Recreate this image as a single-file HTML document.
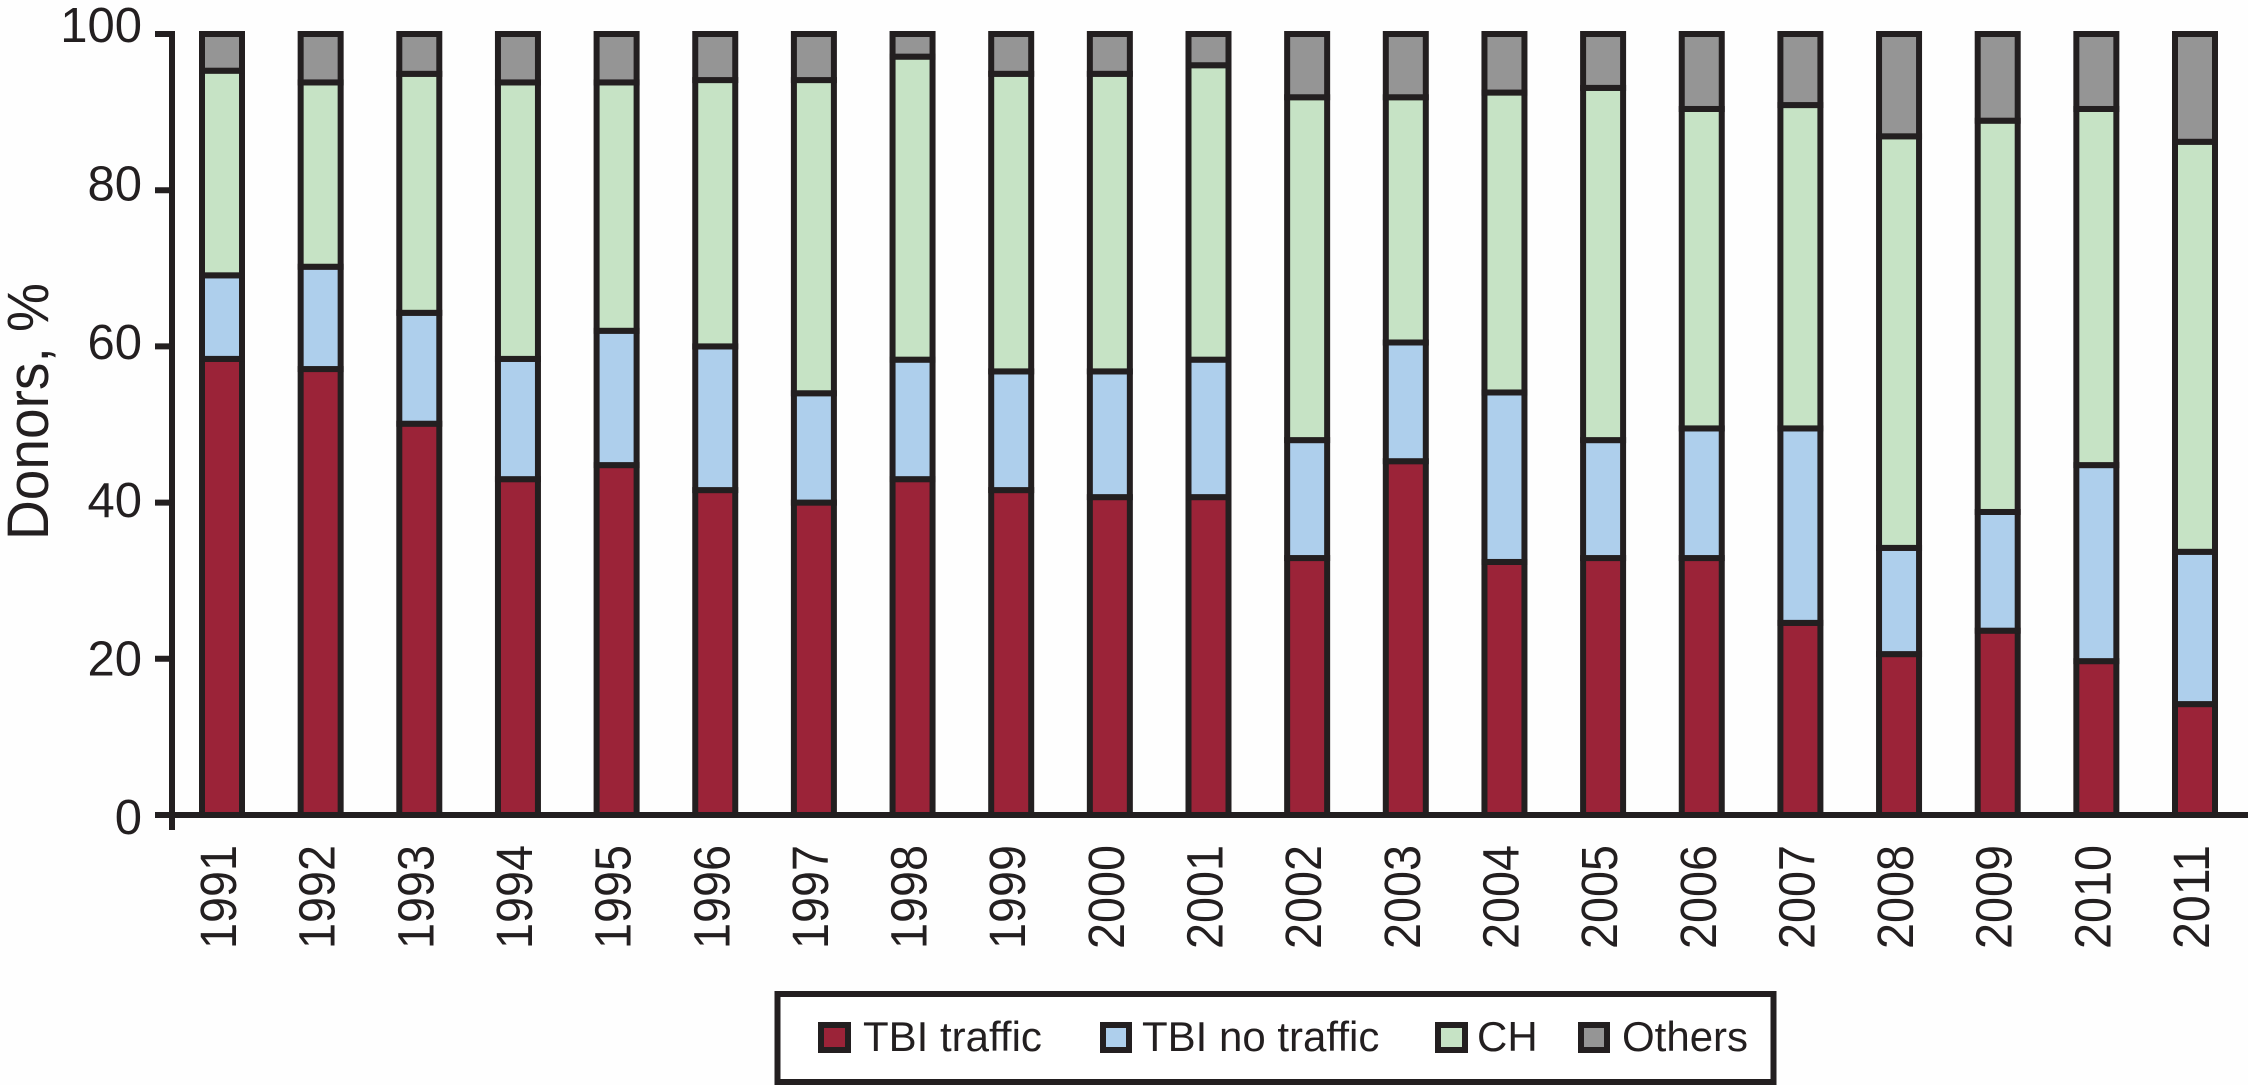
<!DOCTYPE html>
<html lang="en">
<head>
<meta charset="utf-8">
<title>Donors by cause of death, 1991-2011</title>
<style>
html,body{margin:0;padding:0;background:#fff;}
svg{display:block;font-family:"Liberation Sans",Arial,sans-serif;}
text{fill:#231f20;}
</style>
</head>
<body>
<svg id="chart" xmlns="http://www.w3.org/2000/svg" width="2248" height="1085" viewBox="0 0 2248 1085">
  <rect x="0" y="0" width="2248" height="1085" fill="#fefefe"/>
  <g id="bars"></g>
  <g id="axes"></g>
  <text transform="translate(48,540) rotate(-90)" font-size="58" textLength="257" lengthAdjust="spacingAndGlyphs">Donors, %</text>
  <g>
    <rect x="777.5" y="994" width="996" height="88" fill="#fff" stroke="#231f20" stroke-width="6"/>
    <g>
      <rect x="821" y="1025" width="27" height="25" fill="#9b2338" stroke="#231f20" stroke-width="6"/>
      <text x="863" y="1051" font-size="42">TBI traffic</text>
    </g>
    <g>
      <rect x="1103" y="1025" width="26" height="25" fill="#aecfec" stroke="#231f20" stroke-width="6"/>
      <text x="1142" y="1051" font-size="42">TBI no traffic</text>
    </g>
    <g>
      <rect x="1438" y="1025" width="27" height="25" fill="#c6e3c5" stroke="#231f20" stroke-width="6"/>
      <text x="1477" y="1051" font-size="42">CH</text>
    </g>
    <g>
      <rect x="1581" y="1025" width="26" height="25" fill="#959595" stroke="#231f20" stroke-width="6"/>
      <text x="1622" y="1051" font-size="42">Others</text>
    </g>
  </g>
</svg>
<script>
const years = ["1991","1992","1993","1994","1995","1996","1997","1998","1999","2000","2001","2002","2003","2004","2005","2006","2007","2008","2009","2010","2011"];
const tbiTraffic = [58.4,57.1,50.1,43,44.8,41.6,40,43,41.6,40.7,40.7,32.9,45.3,32.4,32.9,32.9,24.6,20.6,23.6,19.7,14.2];
const tbiNoTraffic = [10.7,13.1,14.2,15.4,17.2,18.4,14,15.3,15.2,16.1,17.6,15.1,15.2,21.7,15.1,16.6,24.9,13.6,15.2,25.1,19.5];
const ch = [26.2,23.6,30.6,35.4,31.8,34.1,40.1,38.8,38.1,38.1,37.7,43.9,31.4,38.4,45.1,40.9,41.4,52.7,50.1,45.6,52.5];
const others = [4.7,6.2,5.1,6.2,6.2,5.9,5.9,2.9,5.1,5.1,4,8.1,8.1,7.5,6.9,9.6,9.1,13.1,11.1,9.6,13.8];
const yTicks = [0,20,40,60,80,100];

const NS = "http://www.w3.org/2000/svg";
const INK = "#231f20";
const barsLayer = document.getElementById("bars");
const axesLayer = document.getElementById("axes");

function yScale(v) { return 815 - v * 7.81; }
function yLabelBaseline(v) { return 834 - v * 7.92; }
function xScale(i) { return 222 + i * (2195 - 222) / (years.length - 1); }

function makeRect(x, y, w, h, fill) {
  const r = document.createElementNS(NS, "rect");
  r.setAttribute("x", x);
  r.setAttribute("y", y);
  r.setAttribute("width", w);
  r.setAttribute("height", h);
  r.setAttribute("fill", fill);
  return r;
}

function makeLine(x1, y1, x2, y2) {
  const l = document.createElementNS(NS, "line");
  l.setAttribute("x1", x1);
  l.setAttribute("y1", y1);
  l.setAttribute("x2", x2);
  l.setAttribute("y2", y2);
  l.setAttribute("stroke", INK);
  l.setAttribute("stroke-width", 6);
  return l;
}

function drawSegment(i, start, value, fill, seriesName) {
  const top = yScale(start + value);
  const bottom = yScale(start);
  const seg = makeRect(xScale(i) - 20, top, 40, bottom - top, fill);
  seg.setAttribute("stroke", INK);
  seg.setAttribute("stroke-width", 6);
  
  
  barsLayer.appendChild(seg);
}

years.forEach(function (year, i) {
  let base = 0;
  drawSegment(i, base, tbiTraffic[i], "#9b2338", "tbi-traffic");
  base += tbiTraffic[i];
  drawSegment(i, base, tbiNoTraffic[i], "#aecfec", "tbi-no-traffic");
  base += tbiNoTraffic[i];
  drawSegment(i, base, ch[i], "#c6e3c5", "ch");
  base += ch[i];
  drawSegment(i, base, others[i], "#959595", "others");

  const label = document.createElementNS(NS, "text");
  label.setAttribute("transform", "translate(" + (xScale(i) + 14) + ",949) rotate(-90)");
  label.setAttribute("font-size", "51");
  label.setAttribute("textLength", "104");
  label.setAttribute("lengthAdjust", "spacingAndGlyphs");
  
  
  label.textContent = year;
  axesLayer.appendChild(label);
});

const yAxisLine = makeLine(172, yScale(100) - 3, 172, 830);


axesLayer.appendChild(yAxisLine);

const xAxisLine = makeLine(155, yScale(0), 2248, yScale(0));


axesLayer.appendChild(xAxisLine);

yTicks.forEach(function (v) {
  const tick = makeLine(155, yScale(v), 172, yScale(v));
  
  
  axesLayer.appendChild(tick);

  const label = document.createElementNS(NS, "text");
  label.setAttribute("x", 142);
  label.setAttribute("y", yLabelBaseline(v));
  label.setAttribute("text-anchor", "end");
  label.setAttribute("font-size", "49");
  
  
  label.textContent = String(v);
  axesLayer.appendChild(label);
});
</script>
</body>
</html>
